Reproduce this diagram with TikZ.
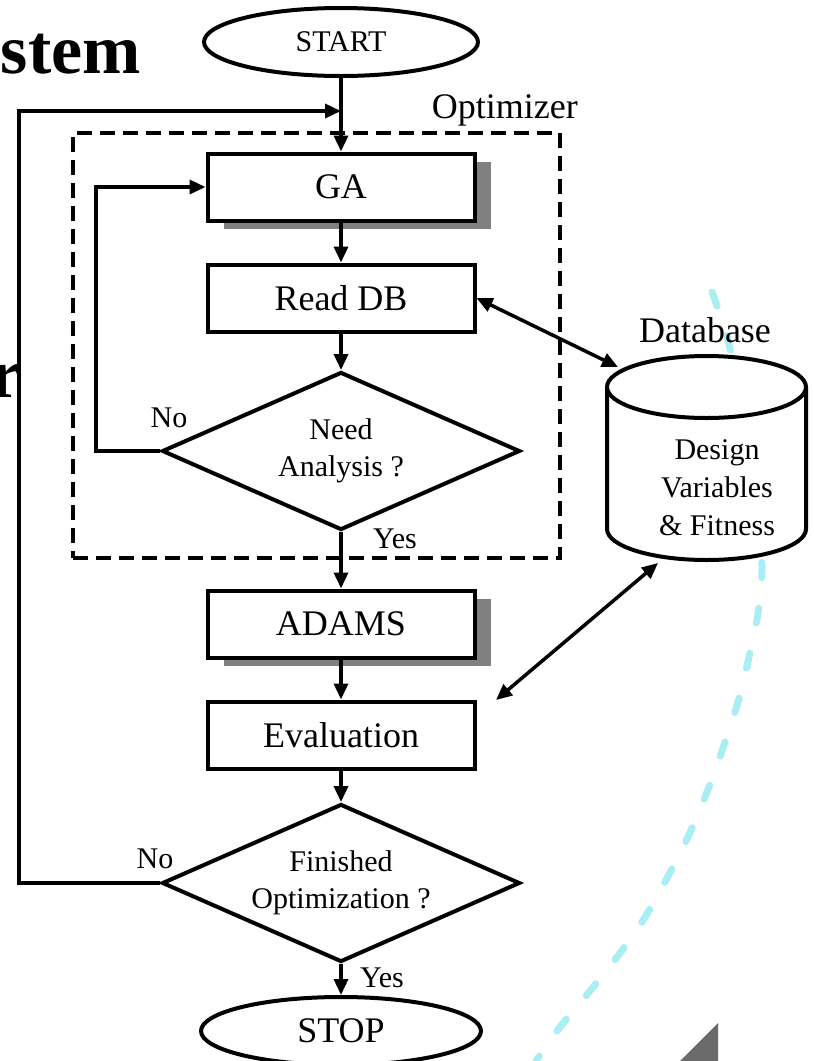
\documentclass[tikz,border=0pt]{standalone}
\usepackage{fontspec}
\setmainfont{Liberation Serif}
\usetikzlibrary{shapes.geometric,arrows.meta,shadows,calc}
\definecolor{shadowgray}{HTML}{808080}
\definecolor{lightcyan}{HTML}{A8EEF2}
\definecolor{trigray}{HTML}{6B6B6B}
\tikzset{
  arr/.style={line width=3.5pt, -{Triangle[length=16pt,width=14pt]}},
  darr/.style={line width=3.5pt, {Triangle[length=16pt,width=14pt]}-{Triangle[length=16pt,width=14pt]}},
  box/.style={draw, line width=4pt, fill=white, minimum width=267pt, minimum height=67pt, inner sep=0pt, font=\fontsize{36}{40}\selectfont},
  sbox/.style={box, drop shadow={shadow xshift=16pt, shadow yshift=-8pt, opacity=1, fill=shadowgray}},
  dec/.style={draw, diamond, line width=4pt, fill=white, shape aspect=2.27, minimum width=358pt, minimum height=158pt, inner sep=0pt, align=center, font=\fontsize{30}{37}\selectfont},
  term/.style={draw, ellipse, line width=4pt, fill=white, inner sep=0pt},
  lab/.style={font=\fontsize{30}{36}\selectfont, inner sep=0pt},
  biglab/.style={font=\fontsize{36}{40}\selectfont, inner sep=0pt},
  titletxt/.style={font=\fontsize{70}{80}\selectfont\bfseries, inner sep=0pt},
  optbox/.style={draw, line width=3.5pt, dash pattern=on 15pt off 8pt, minimum width=487pt, minimum height=425pt, inner sep=0pt},
}
\begin{document}
\begin{tikzpicture}[x=1pt,y=-1pt]
\useasboundingbox (0,0) rectangle (814,1061);
\fill[white] (0,0) rectangle (814,1061);

% background cyan dashed arc and grey corner
\draw[lightcyan, line width=7pt, line cap=round, dash pattern=on 15pt off 31pt]
  plot[smooth] coordinates {(712,292) (728,340) (745,420) (756,490) (762,565) (758,613) (749,657) (738,702) (723,748) (707,792) (688,837) (666,880) (642,922) (614,961) (585,997) (560,1027) (536,1061)};
\fill[trigray] (718,1023) -- (718,1061) -- (680,1061) -- cycle;

% title fragments
\node[titletxt, anchor=base east] (ttl) at (141,73) {stem};
\node[titletxt, anchor=base east] (ttr) at (22,397) {r};

% optimizer dashed frame
\node[optbox] (opt) at (316.5,345.5) {};
\node[biglab, anchor=base east] (optlab) at (578,118) {Optimizer};

% flow nodes
\node[term, minimum width=274pt, minimum height=68pt, font=\fontsize{30}{36}\selectfont] (start) at (341,42) {START};
\node[sbox] (ga) at (341,187) {GA};
\node[box] (readdb) at (341,298) {Read DB};
\node[dec] (need) at (341,451) {Need\\Analysis ?};
\node[sbox] (adams) at (341,624) {ADAMS};
\node[box] (eval) at (341,735) {Evaluation};
\node[dec] (fin) at (341,883) {Finished\\Optimization ?};
\node[term, minimum width=280pt, minimum height=68pt, font=\fontsize{36}{40}\selectfont] (stop) at (341,1031) {STOP};

% database cylinder
\draw[line width=4pt, fill=white] (607,387) -- (607,529) arc[start angle=180, end angle=0, x radius=99.5, y radius=31] -- (806,387);
\draw[line width=4pt, fill=white] (706.5,387) ellipse [x radius=99.5, y radius=31];
\node[lab, align=center, font=\fontsize{30}{38}\selectfont] (db) at (717,488) {Design\\Variables\\\& Fitness};
\node[biglab, anchor=base] (dblab) at (705,342) {Database};
\coordinate (dbtop) at (618,367);
\coordinate (dbbot) at (658,563);
\coordinate (evtip) at (496,700);

% main flow connectors
\coordinate (join) at (341,111);
\draw[arr] (start.south) -- (ga.north);
\draw[arr] (ga.south) -- (readdb.north);
\draw[arr] (readdb.south) -- (need.north);
\draw[arr] (need.south) -- (adams.north);
\draw[arr] (adams.south) -- (eval.north);
\draw[arr] (eval.south) -- (fin.north);
\draw[arr] (fin.south) -- (stop.north);

% loops
\draw[arr] (need.west) -- ++(-64,0) |- (ga.west);
\draw[arr] (fin.west) -- ++(-141,0) |- (join);

% database links
\draw[darr] (readdb.east) -- (dbtop);
\draw[darr] (evtip) -- (dbbot);

% labels
\node[lab, anchor=base] (no1) at (169,427) {No};
\node[lab, anchor=base] (no2) at (155,868) {No};
\node[lab, anchor=base west] (yes1) at (373,548) {Yes};
\node[lab, anchor=base west] (yes2) at (360,987) {Yes};
\end{tikzpicture}
\end{document}
